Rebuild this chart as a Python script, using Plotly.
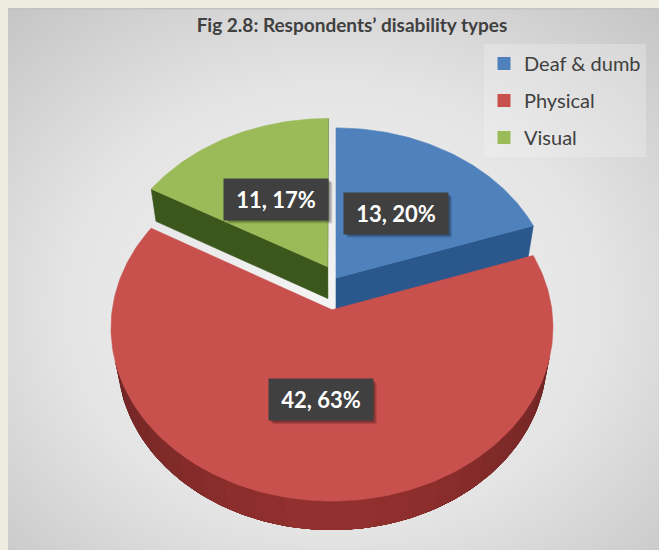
import math
import base64
import plotly.graph_objects as go

# ---- data ----
categories = ["Deaf & dumb", "Physical", "Visual"]
counts = [13, 42, 11]
percent_labels = ["20%", "63%", "17%"]

# ---- styling ----
top_colors = ["#4f81bd", "#c8504d", "#9bbb59"]
side_colors = ["#2d5c94", "#953230", "#3f5c1e"]
explode = [0.0, 0.19, 0.08]          # slice offsets, in pie radii
title_text = "Fig 2.8: Respondents’ disability types"

W, H_PX = 659, 550

# ---- 3-D projection of the pie (tilted disc seen in perspective) ----
CX, CY = 336.0, 278.0      # screen position of the pie centre
FOCAL = 1380.0
DIST = 6.4
PHI = math.radians(50)
THICK = 0.235
SP, CP = math.sin(PHI), math.cos(PHI)
CAM = (0.0, DIST * SP, -DIST * CP)


def project(x, y, z):
    depth = -y * SP + z * CP + DIST
    up = y * CP + z * SP
    return CX + FOCAL * x / depth, CY - FOCAL * up / depth


def arc(c, a0, a1, y=0.0, step=1.0):
    n = max(2, int(abs(a1 - a0) / step) + 1)
    pts = []
    for i in range(n + 1):
        a = math.radians(a0 + (a1 - a0) * i / n)
        pts.append(project(c[0] + math.sin(a), y, c[2] + math.cos(a)))
    return pts


def shade(hex_color, f):
    h = hex_color.lstrip("#")
    r, g, b = (int(h[i:i + 2], 16) for i in (0, 2, 4))
    r, g, b = (max(0, min(255, int(v * f))) for v in (r, g, b))
    return f"rgb({r},{g},{b})"


def facing(normal, point):
    v = [CAM[i] - point[i] for i in range(3)]
    return sum(normal[i] * v[i] for i in range(3)) > 0


def poly_trace(pts, color, lw=0.6):
    xs = [p[0] for p in pts] + [pts[0][0]]
    ys = [p[1] for p in pts] + [pts[0][1]]
    return go.Scatter(x=xs, y=ys, mode="lines", fill="toself", fillcolor=color,
                      line=dict(color=color, width=lw), hoverinfo="skip",
                      showlegend=False)


total = sum(counts)
slices = []
cum = 0
for i, v in enumerate(counts):
    a0 = 360.0 * cum / total
    cum += v
    a1 = 360.0 * cum / total
    mid = math.radians((a0 + a1) / 2)
    c = (explode[i] * math.sin(mid), 0.0, explode[i] * math.cos(mid))
    slices.append(dict(i=i, a0=a0, a1=a1, mid=mid, c=c))

fig = go.Figure()

# draw far slices first
for s in sorted(slices, key=lambda s: -s["c"][2]):
    i, a0, a1, c = s["i"], s["a0"], s["a1"], s["c"]
    # radial walls
    for ang, sign in ((a0, -1), (a1, 1)):
        r = math.radians(ang)
        if sign < 0:
            nrm = (-math.cos(r), 0.0, math.sin(r))
        else:
            nrm = (math.cos(r), 0.0, -math.sin(r))
        if facing(nrm, c):
            rim = (c[0] + math.sin(r), 0.0, c[2] + math.cos(r))
            pts = [project(c[0], 0, c[2]), project(*rim),
                   project(rim[0], -THICK, rim[2]), project(c[0], -THICK, c[2])]
            fig.add_trace(poly_trace(pts, shade(side_colors[i], 0.95)))
    # outer curved wall: one dark base band, then lighter bands toward the front
    vis = []
    step = 1.0
    n = max(1, int((a1 - a0) / step))
    for k in range(n + 1):
        b = a0 + (a1 - a0) * k / n
        rb = math.radians(b)
        nrm = (math.sin(rb), 0.0, math.cos(rb))
        p = (c[0] + nrm[0], 0.0, c[2] + nrm[2])
        if facing(nrm, p):
            vis.append(b)
    if len(vis) > 1:
        lo, hi = vis[0], vis[-1]
        fig.add_trace(poly_trace(arc(c, lo, hi) + arc(c, hi, lo, -THICK),
                                 shade(side_colors[i], 0.70), lw=0))
        # progressively narrower, lighter bands centred on the front
        levels = 14
        for lvl in range(1, levels):
            t = lvl / levels
            half = (1 - t) ** 0.8 * 90
            blo, bhi = max(lo, 180 - half), min(hi, 180 + half)
            if bhi - blo < 1:
                continue
            fig.add_trace(poly_trace(arc(c, blo, bhi) + arc(c, bhi, blo, -THICK),
                                     shade(side_colors[i], 0.70 + 0.3 * t), lw=0))
    # top face
    pts = [project(c[0], 0, c[2])] + arc(c, a0, a1)
    fig.add_trace(poly_trace(pts, top_colors[i]))

# legend entries
for i, name in enumerate(categories):
    fig.add_trace(go.Scatter(x=[None], y=[None], mode="markers", name=name,
                             legendgroup=name,
                             marker=dict(symbol="square", size=13, color=top_colors[i])))

# data labels with a soft drop shadow
BOX_W, BOX_H = 104, 41
for s in slices:
    i, c, mid = s["i"], s["c"], s["mid"]
    lx, ly = project(c[0] + 0.5 * math.sin(mid), 0.0, c[2] + 0.5 * math.cos(mid))
    for off, alpha in ((4, 0.10), (3, 0.14), (2, 0.16)):
        fig.add_shape(type="rect", xref="x", yref="y",
                      x0=lx - BOX_W / 2 + off, x1=lx + BOX_W / 2 + off,
                      y0=ly - BOX_H / 2 + off, y1=ly + BOX_H / 2 + off,
                      fillcolor=f"rgba(0,0,0,{alpha})", line=dict(width=0), layer="above")
    fig.add_annotation(x=lx, y=ly, text=f"{counts[i]}, {percent_labels[i]}",
                       showarrow=False,
                       font=dict(family="Lato", size=22, color="white", weight="bold"),
                       bgcolor="#404040", borderpad=7, width=90, height=27)

# chart-area background with a soft radial gradient
svg = (
    "<svg xmlns='http://www.w3.org/2000/svg' width='651' height='542'>"
    "<defs><radialGradient id='g' cx='0.5' cy='0.55' r='0.75'>"
    "<stop offset='0' stop-color='#f4f4f4'/>"
    "<stop offset='0.55' stop-color='#e4e4e4'/>"
    "<stop offset='1' stop-color='#c4c4c4'/>"
    "</radialGradient></defs>"
    "<rect width='651' height='542' fill='url(#g)'/>"
    "<rect x='0' y='0' width='651' height='1.5' fill='#c2c2c2'/>"
    "</svg>"
)
bg_src = "data:image/svg+xml;base64," + base64.b64encode(svg.encode()).decode()

fig.update_layout(
    width=W, height=H_PX,
    margin=dict(l=0, r=0, t=0, b=0),
    paper_bgcolor="#eeece1",
    plot_bgcolor="rgba(0,0,0,0)",
    xaxis=dict(range=[0, W], visible=False, fixedrange=True),
    yaxis=dict(range=[H_PX, 0], visible=False, fixedrange=True),
    images=[dict(source=bg_src, xref="paper", yref="paper",
                 x=8 / W, y=1 - 8 / H_PX, sizex=(W - 8) / W, sizey=(H_PX - 8) / H_PX,
                 xanchor="left", yanchor="top", sizing="stretch", layer="below")],
    title=dict(text=title_text, x=352 / W, xanchor="center", y=1 - 25 / H_PX,
               yanchor="middle",
               font=dict(family="Lato", size=19, color="#404040", weight="bold")),
    legend=dict(x=484 / W, y=1 - 44 / H_PX, xanchor="left", yanchor="top",
                bgcolor="rgba(244,244,244,0.3)", borderwidth=0,
                font=dict(family="Lato", size=20, color="#404040"),
                traceorder="grouped", tracegroupgap=8),
    showlegend=True,
)

fig.write_html("out.html")
